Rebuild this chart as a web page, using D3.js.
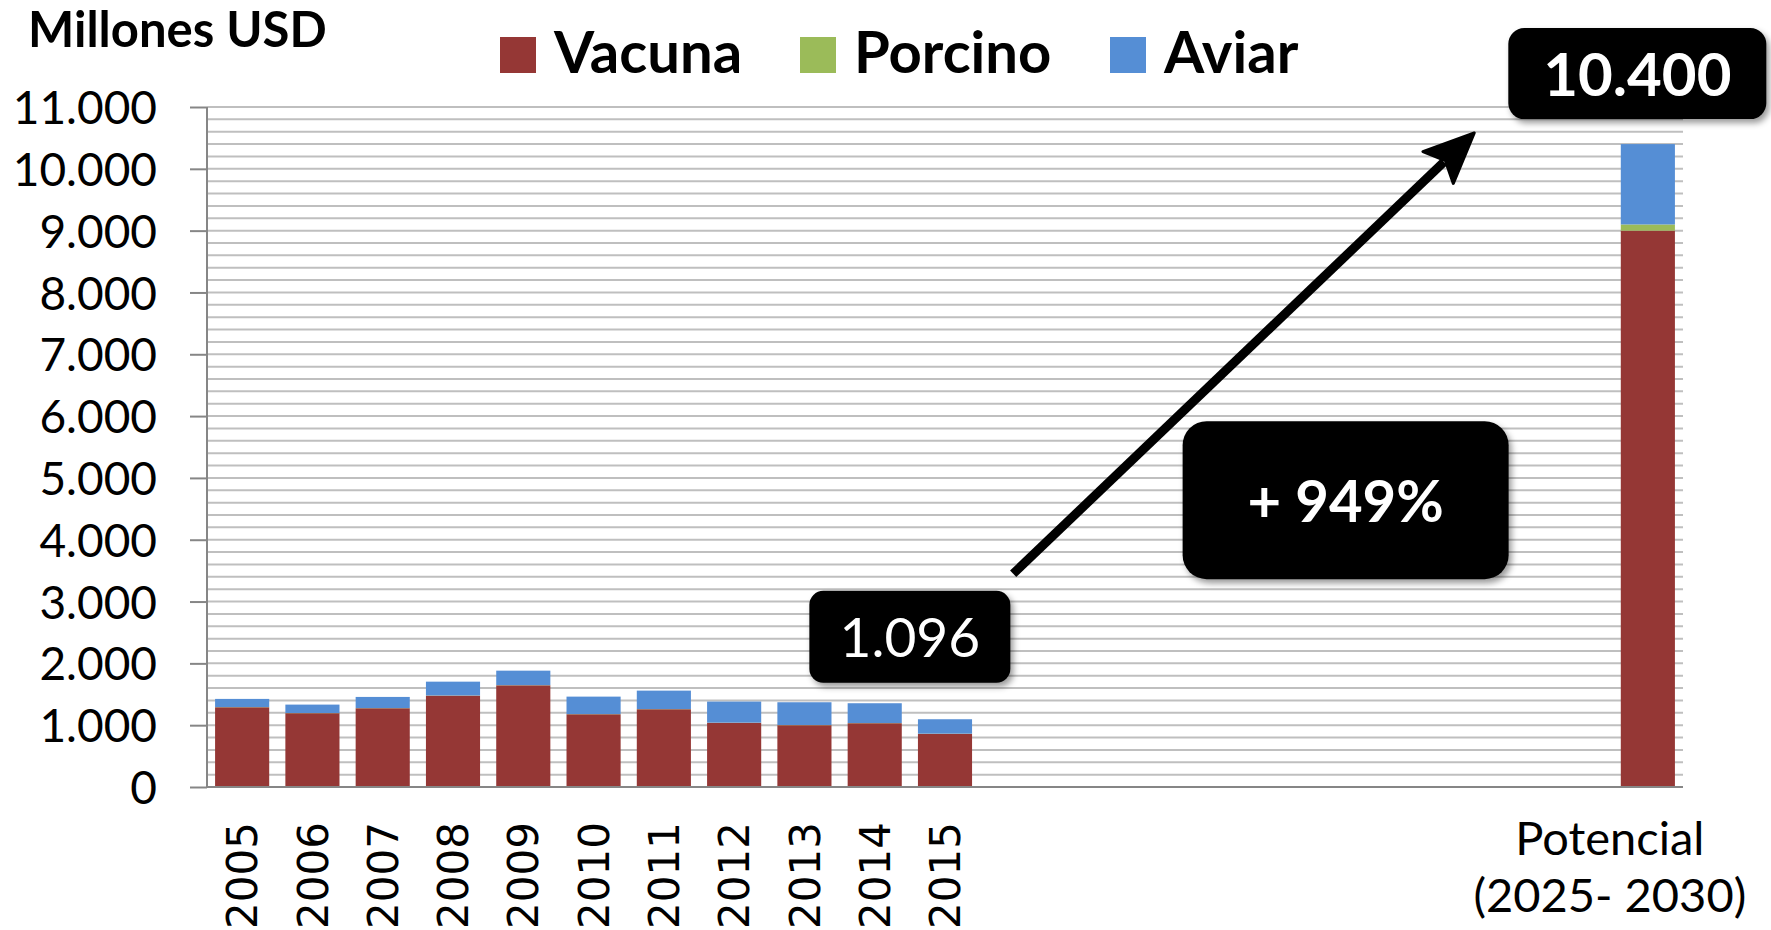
<!DOCTYPE html>
<html>
<head>
<meta charset="utf-8">
<script src="https://cdn.jsdelivr.net/npm/d3@7"></script>
<style>
  body { margin: 0; background: #fff; }
  svg { display: block; }
</style>
</head>
<body>
<svg id="chart" width="1771" height="930"></svg>
<script>
// categories: 11 years, 9 empty slots, then the potential
const years = ["2005", "2006", "2007", "2008", "2009", "2010", "2011", "2012", "2013", "2014", "2015"];
const gapSlots = ["2016", "2017", "2018", "2019", "2020", "2021", "2022", "2023", "2024"];
const potencial = "Potencial";
const categories = years.concat(gapSlots, [potencial]);
const barCategories = years.concat([potencial]);

// millones USD
const vacuna  = [1290, 1194, 1274, 1478, 1645, 1177, 1258, 1038, 1000, 1032, 860, 9000];
const porcino = [3, 3, 3, 3, 3, 3, 3, 3, 3, 3, 3, 100];
const aviar   = [132, 136, 180, 223, 234, 282, 298, 341, 368, 320, 233, 1300];

const seriesNames = ["Vacuna", "Porcino", "Aviar"];
const seriesColors = ["#953735", "#9bbb59", "#558ed5"];

const yTicks = [0, 1000, 2000, 3000, 4000, 5000, 6000, 7000, 8000, 9000, 10000, 11000];
const potencialLines = ["Potencial", "(2025- 2030)"];

const svg = d3.select("#chart");
const width = +svg.attr("width");
const height = +svg.attr("height");
const margin = { top: 107, right: 88, bottom: 143, left: 207 };
const plotW = width - margin.left - margin.right;
const plotH = height - margin.top - margin.bottom;

const fmt = d3.formatLocale({ decimal: ",", thousands: ".", grouping: [3], currency: ["", ""] }).format(",d");

const x = d3.scaleBand().domain(categories).range([0, plotW]).paddingInner(0.23).paddingOuter(0.115);
const xi = d3.scaleLinear().domain([0, categories.length]).range([0, plotW]);
const y = d3.scaleLinear().domain([0, 11000]).range([plotH, 0]);

const defs = svg.append("defs");
const shadow = defs.append("filter").attr("id", "shadow")
    .attr("x", "-10%").attr("y", "-10%").attr("width", "130%").attr("height", "140%");
shadow.append("feDropShadow")
    .attr("dx", 3).attr("dy", 4).attr("stdDeviation", 3)
    .attr("flood-color", "#000").attr("flood-opacity", 0.4);

const g = svg.append("g").attr("transform", `translate(${margin.left},${margin.top})`);

// gridlines every 200
g.append("g")
  .selectAll("line")
  .data(d3.range(200, 11001, 200))
  .join("line")
    .attr("x1", 0).attr("x2", plotW)
    .attr("y1", d => y(d)).attr("y2", d => y(d))
    .attr("stroke", "#bfbfbf")
    .attr("stroke-width", 2);

// stacked bars
const rows = barCategories.map((c, i) => ({ cat: c, Vacuna: vacuna[i], Porcino: porcino[i], Aviar: aviar[i] }));
const stacked = d3.stack().keys(seriesNames)(rows);

g.append("g")
  .selectAll("g")
  .data(stacked)
  .join("g")
    .attr("fill", (d, i) => seriesColors[i])
  .selectAll("rect")
  .data(d => d)
  .join("rect")
    .attr("x", d => x(d.data.cat))
    .attr("width", x.bandwidth())
    .attr("y", d => y(d[1]))
    .attr("height", d => y(d[0]) - y(d[1]));

// y axis
const yAxis = g.append("g")
    .call(d3.axisLeft(y).tickValues(yTicks).tickFormat(fmt).tickSize(17).tickPadding(33));
yAxis.select(".domain").attr("stroke", "#868686").attr("stroke-width", 2).attr("d", `M0,0V${plotH}`);
yAxis.selectAll(".tick line").attr("stroke", "#868686").attr("stroke-width", 2);
yAxis.selectAll(".tick text")
    .attr("font-family", "Lato, sans-serif")
    .attr("font-size", 46)
    .attr("fill", "#000")
    .attr("dy", "0.36em");

// baseline
g.append("line")
    .attr("x1", 0).attr("x2", plotW)
    .attr("y1", y(0)).attr("y2", y(0))
    .attr("stroke", "#868686").attr("stroke-width", 2);

// x labels: years rotated
g.append("g")
  .selectAll("text")
  .data(years)
  .join("text")
    .attr("transform", d => `translate(${x(d) + x.bandwidth() / 2},${plotH + 35}) rotate(-90)`)
    .attr("text-anchor", "end")
    .attr("dy", "0.36em")
    .attr("font-family", "DejaVu Sans, sans-serif")
    .attr("font-size", 42)
    .attr("fill", "#000")
    .text(d => d);

// potencial label
g.append("text")
    .attr("x", x(potencial) + x.bandwidth() / 2 - 38)
    .attr("y", plotH + 68)
    .attr("text-anchor", "middle")
    .attr("font-family", "Lato, sans-serif")
    .attr("font-size", 47)
    .attr("fill", "#000")
  .selectAll("tspan")
  .data(potencialLines)
  .join("tspan")
    .attr("x", x(potencial) + x.bandwidth() / 2 - 38)
    .attr("dy", (d, i) => i === 0 ? 0 : 57)
    .text(d => d);

// title
svg.append("text")
    .attr("x", 28).attr("y", 47)
    .attr("font-family", "Lato, sans-serif")
    .attr("font-weight", "bold")
    .attr("font-size", 49)
    .attr("fill", "#000")
    .text("Millones USD");

// legend
const legendX = [500, 800, 1110];
const legend = svg.append("g")
  .selectAll("g")
  .data(seriesNames)
  .join("g")
    .attr("transform", (d, i) => `translate(${legendX[i]},37)`);
legend.append("rect")
    .attr("width", 36).attr("height", 36)
    .attr("fill", (d, i) => seriesColors[i]);
legend.append("text")
    .attr("x", 54).attr("y", 36)
    .attr("font-family", "Lato, sans-serif")
    .attr("font-weight", "bold")
    .attr("font-size", 58)
    .attr("fill", "#000")
    .text(d => d);

// arrow from the 2015 callout towards the potential
const arrowFrom = { i: 11.47, v: 3450 };
const arrowTo = { i: 18.03, v: 10580 };
const ax1 = xi(arrowFrom.i), ay1 = y(arrowFrom.v);
const ax2 = xi(arrowTo.i), ay2 = y(arrowTo.v);
const ang = Math.atan2(ay2 - ay1, ax2 - ax1);
const headLen = 50, headHalf = 22;
const baseX = ax2 - headLen * Math.cos(ang), baseY = ay2 - headLen * Math.sin(ang);
g.append("line")
    .attr("x1", ax1).attr("y1", ay1)
    .attr("x2", baseX + 8 * Math.cos(ang)).attr("y2", baseY + 8 * Math.sin(ang))
    .attr("stroke", "#000").attr("stroke-width", 9);
g.append("path")
    .attr("d", d3.line()([
      [ax2, ay2],
      [baseX + headHalf * Math.sin(ang), baseY - headHalf * Math.cos(ang)],
      [baseX + 10 * Math.cos(ang), baseY + 10 * Math.sin(ang)],
      [baseX - headHalf * Math.sin(ang), baseY + headHalf * Math.cos(ang)]
    ]) + "Z")
    .attr("fill", "#000")
    .attr("stroke", "#000").attr("stroke-width", 3).attr("stroke-linejoin", "round");

// callouts
const callouts = [
  { text: "1.096",  i: 10.0,  v: 2430,  w: 201, h: 92,  r: 14, weight: "normal", size: 55 },
  { text: "+ 949%", i: 16.2,  v: 4640,  w: 326, h: 158, r: 24, weight: "bold",   size: 58 },
  { text: "10.400", i: 20.35, v: 11540, w: 258, h: 91,  r: 16, weight: "bold",   size: 60 }
];
const co = g.append("g")
  .selectAll("g")
  .data(callouts)
  .join("g")
    .attr("transform", d => `translate(${xi(d.i)},${y(d.v)})`);
co.append("rect")
    .attr("x", d => -d.w / 2).attr("y", d => -d.h / 2)
    .attr("width", d => d.w).attr("height", d => d.h)
    .attr("rx", d => d.r)
    .attr("fill", "#000")
    .attr("filter", "url(#shadow)");
co.append("text")
    .attr("text-anchor", "middle")
    .attr("dy", "0.37em")
    .attr("font-family", "Lato, sans-serif")
    .attr("font-weight", d => d.weight)
    .attr("font-size", d => d.size)
    .attr("fill", "#fff")
    .text(d => d.text);
</script>
</body>
</html>
